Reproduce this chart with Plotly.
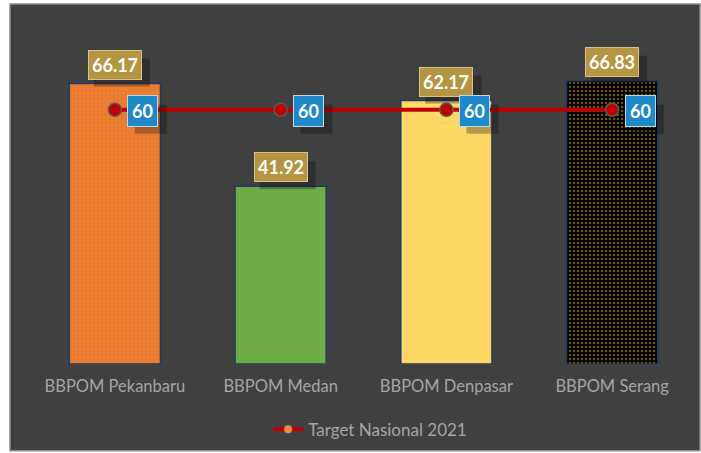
import plotly.graph_objects as go

categories = ["BBPOM Pekanbaru", "BBPOM Medan", "BBPOM Denpasar", "BBPOM Serang"]
values = [66.17, 41.92, 62.17, 66.83]
target = [60, 60, 60, 60]
value_labels = ["66.17", "41.92", "62.17", "66.83"]
target_labels = ["60", "60", "60", "60"]
series_name = "Target Nasional 2021"

bar_bg = ["#ed7d31", "#70ad47", "#ffd966", "#000000"]
bar_fg = ["#c8601f", "#5a9236", "#e8c24a", "#d8aa28"]
bar_sol = [0.12, 0.12, 0.12, 0.3]

fig = go.Figure()
for c, v, bg, fg, so in zip(categories, values, bar_bg, bar_fg, bar_sol):
    fig.add_trace(go.Bar(
        x=[c], y=[v], width=0.55,
        marker=dict(color=bg, line=dict(color="#203864", width=1.5),
                    pattern=dict(shape=".", fgcolor=fg, bgcolor=bg,
                                 size=4, solidity=so)),
        showlegend=False, hoverinfo="skip"))
fig.add_trace(go.Scatter(
    x=categories, y=target, mode="lines+markers",
    line=dict(color="#c00000", width=4),
    marker=dict(color="#c00000", size=13, line=dict(color="#595959", width=1.5)),
    showlegend=False))
# legend entry (orange marker as in reference)
fig.add_trace(go.Scatter(
    x=[None], y=[None], mode="lines+markers", name=series_name,
    line=dict(color="#c00000", width=4),
    marker=dict(color="#f08a3c", size=8)))

shadow = "rgba(10,10,10,0.3)"
for c, v, t in zip(categories, values, value_labels):
    fig.add_shape(type="rect", xref="x", yref="y",
                  xsizemode="pixel", ysizemode="pixel", xanchor=c, yanchor=v,
                  x0=-21, x1=35, y0=-3, y1=25,
                  fillcolor=shadow, line=dict(width=0), layer="above")
    fig.add_annotation(x=c, y=v, text="<b>%s</b>" % t, showarrow=False,
                       yanchor="bottom", yshift=4,
                       font=dict(family="Lato", size=18, color="white"),
                       bgcolor="#b59442", bordercolor="#d8c48a", borderwidth=1,
                       borderpad=3)
for c, v, t in zip(categories, target, target_labels):
    fig.add_shape(type="rect", xref="x", yref="y",
                  xsizemode="pixel", ysizemode="pixel", xanchor=c, yanchor=v,
                  x0=20, x1=52, y0=-24, y1=5,
                  fillcolor=shadow, line=dict(width=0), layer="above")
    fig.add_annotation(x=c, y=v, text="<b>%s</b>" % t, showarrow=False,
                       xshift=28, yshift=-1,
                       font=dict(family="Lato", size=18, color="white"),
                       bgcolor="#1f88c8", bordercolor="#bcd8ea", borderwidth=1,
                       borderpad=4)

# chart frame background
fig.add_shape(type="rect", xref="paper", yref="paper",
              x0=(10 - 32) / 663, x1=(700 - 32) / 663,
              y0=(365 - 452) / 340, y1=(365 - 4) / 340,
              fillcolor="#404040", line=dict(color="#8c8c8c", width=1.5),
              layer="below")

fig.update_layout(
    width=701, height=453,
    margin=dict(l=32, r=6, t=25, b=88),
    paper_bgcolor="white", plot_bgcolor="rgba(0,0,0,0)",
    font=dict(family="Lato", size=16.5, color="#a6a6a6"),
    xaxis=dict(showgrid=False, zeroline=False, showline=False, ticks="",
               ticklabelstandoff=10, categoryorder="array", categoryarray=categories,
               tickfont=dict(size=16.5, color="#a6a6a6")),
    yaxis=dict(range=[0, 80], visible=False),
    legend=dict(orientation="h", x=0.51, xanchor="center", y=-0.19,
                yanchor="middle", font=dict(size=17, color="#a6a6a6"),
                bgcolor="rgba(0,0,0,0)"),
    barmode="overlay",
)

fig.write_html("out.html", config={"displayModeBar": False},
               post_script="document.body.style.margin='0px';")
